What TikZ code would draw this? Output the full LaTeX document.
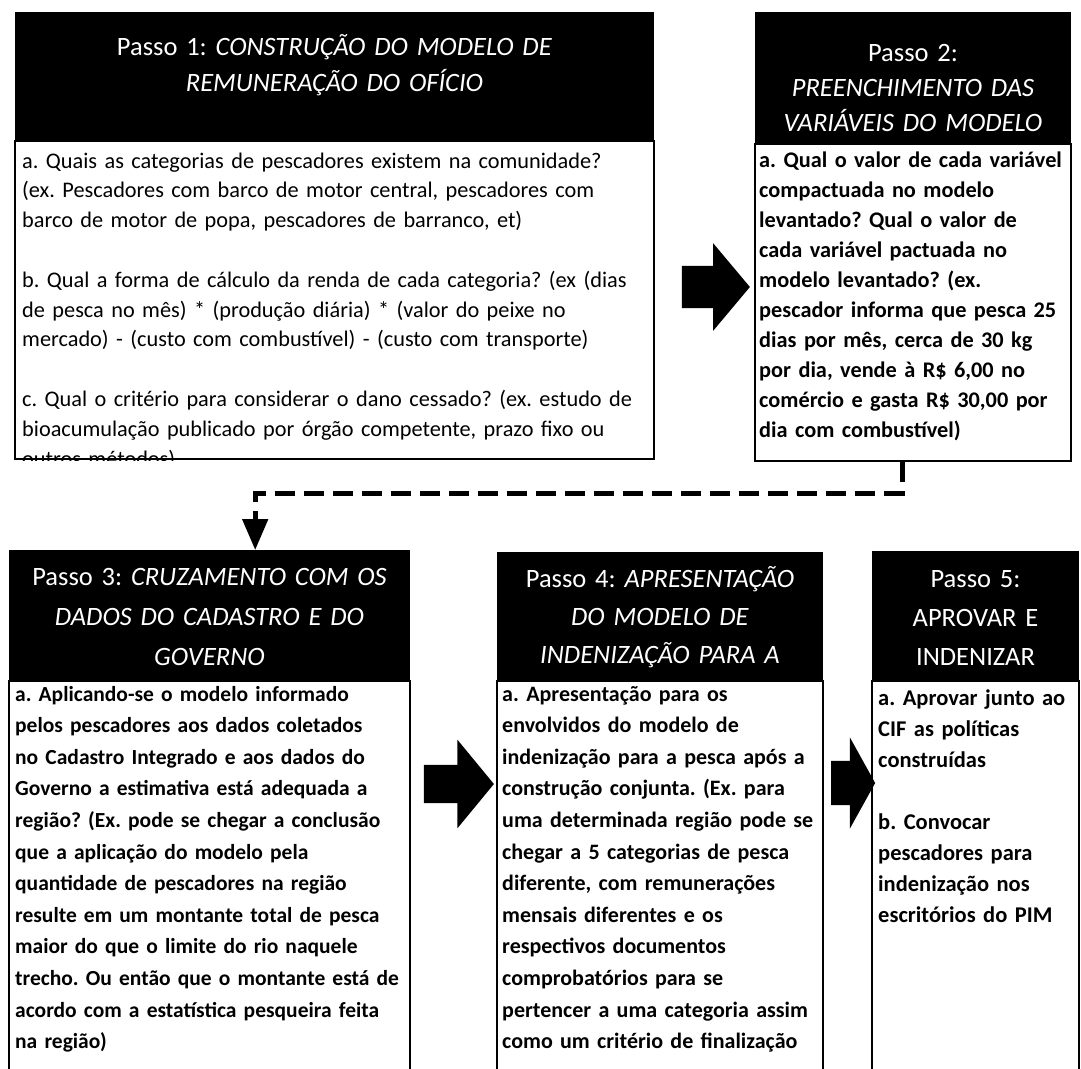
\documentclass[tikz,border=0pt]{standalone}
\usepackage{fontspec}
\setmainfont{Carlito}
\usetikzlibrary{shapes.arrows, arrows.meta, positioning}
\frenchspacing

\begin{document}
\begin{tikzpicture}[
    x=1pt, y=-1pt,
    node distance=0pt,
    headbox/.style={rectangle, fill=black, inner sep=0pt, anchor=north west},
    headtext/.style={anchor=base, inner sep=0pt, align=center, text=white, font=\fontsize{26.5}{36}\selectfont},
    bodybox/.style={rectangle, draw=black, line width=2pt, inner sep=0pt},
    bodytext/.style={anchor=base west, inner sep=0pt, align=left, font=\bfseries\fontsize{21.5}{31.6}\selectfont},
    blockarrow/.style={single arrow, fill=black, inner xsep=0pt},
    dashflow/.style={line width=5pt, dash pattern=on 20pt off 9pt, -{Triangle[length=31pt, width=25pt]}}
]
\useasboundingbox (0,0) rectangle (1081,1068);

\node[headbox, minimum width=639pt, minimum height=128pt] (h1) at (15,12) {};
\node[headtext, text width=620pt] (ht1) at (334.5,55) {Passo 1: \textit{CONSTRUÇÃO DO MODELO DE}\\\textit{REMUNERAÇÃO DO OFÍCIO}};
\node[bodybox, minimum width=639pt, minimum height=318pt, below=of h1] (b1) {};
\begin{scope}
  \clip (b1.north west) rectangle (b1.south east);
  \node[bodytext, font=\fontsize{22.3}{29.8}\selectfont, text width=630pt] (bt1) at (22,168) {a. Quais as categorias de pescadores existem na comunidade?\\(ex. Pescadores com barco de motor central, pescadores com\\barco de motor de popa, pescadores de barranco, et)\\[29.8pt]b. Qual a forma de cálculo da renda de cada categoria? (ex (dias\\de pesca no mês) * (produção diária) * (valor do peixe no\\mercado) - (custo com combustível) - (custo com transporte)\\[29.8pt]c. Qual o critério para considerar o dano cessado? (ex. estudo de\\bioacumulação publicado por órgão competente, prazo fixo ou\\outros métodos)};
\end{scope}

\node[headbox, minimum width=316pt, minimum height=131pt] (h2) at (755,12) {};
\node[headtext, text width=312pt, font=\fontsize{26.5}{35}\selectfont] (ht2) at (913,61) {Passo 2:\\\textit{PREENCHIMENTO DAS}\\\textit{VARIÁVEIS DO MODELO}};
\node[bodybox, minimum width=316pt, minimum height=317pt, below=of h2] (b2) {};
\node[bodytext, font=\bfseries\fontsize{22.3}{30}\selectfont, text width=312pt] (bt2) at (759,167) {a. Qual o valor de cada variável\\compactuada no modelo\\levantado? Qual o valor de\\cada variável pactuada no\\modelo levantado? (ex.\\pescador informa que pesca 25\\dias por mês, cerca de 30 kg\\por dia, vende à R\$ 6,00 no\\comércio e gasta R\$ 30,00 por\\dia com combustível)};

\node[blockarrow, minimum height=68pt, inner ysep=21pt, single arrow head extend=22.5pt, single arrow tip angle=100] (ar1) at (707,287) {};

\node[headbox, minimum width=401pt, minimum height=130pt] (h3) at (9,550) {};
\node[headtext, text width=398pt, font=\fontsize{26.5}{40}\selectfont] (ht3) at (209.5,585) {Passo 3: \textit{CRUZAMENTO COM OS}\\\textit{DADOS DO CADASTRO E DO}\\\textit{GOVERNO}};
\node[bodybox, minimum width=401pt, minimum height=400pt, below=of h3] (b3) {};
\node[bodytext, text width=398pt] (bt3) at (15,701) {a. Aplicando-se o modelo informado\\pelos pescadores aos dados coletados\\no Cadastro Integrado e aos dados do\\Governo a estimativa está adequada a\\região? (Ex. pode se chegar a conclusão\\que a aplicação do modelo pela\\quantidade de pescadores na região\\resulte em um montante total de pesca\\maior do que o limite do rio naquele\\trecho. Ou então que o montante está de\\acordo com a estatística pesqueira feita\\na região)};

\draw[dashflow] ([xshift=-11pt]b2.south) -- ++(0,31) -| ([xshift=45.5pt]h3.north);

\node[blockarrow, minimum height=70pt, inner ysep=19pt, single arrow head extend=25pt, single arrow tip angle=101] (ar2) at (451,784) {};

\node[headbox, minimum width=326pt, minimum height=128pt] (h4) at (497,552) {};
\node[headtext, text width=324pt, font=\fontsize{26.5}{38}\selectfont] (ht4) at (660,587) {Passo 4: \textit{APRESENTAÇÃO}\\\textit{DO MODELO DE}\\\textit{INDENIZAÇÃO PARA A}};
\node[bodybox, minimum width=326pt, minimum height=400pt, below=of h4] (b4) {};
\node[bodytext, font=\bfseries\fontsize{22}{31.6}\selectfont, text width=322pt] (bt4) at (502,701) {a. Apresentação para os\\envolvidos do modelo de\\indenização para a pesca após a\\construção conjunta. (Ex. para\\uma determinada região pode se\\chegar a 5 categorias de pesca\\diferente, com remunerações\\mensais diferentes e os\\respectivos documentos\\comprobatórios para se\\pertencer a uma categoria assim\\como um critério de finalização};

\node[blockarrow, minimum height=44pt, inner ysep=22pt, single arrow head extend=23.5pt, single arrow tip angle=122] (ar3) at (847,783) {};

\node[headbox, minimum width=207pt, minimum height=129pt] (h5) at (872,551) {};
\node[headtext, text width=204pt, font=\fontsize{26.5}{39}\selectfont] (ht5) at (975.5,587) {Passo 5:\\APROVAR E\\INDENIZAR};
\node[bodybox, minimum width=207pt, minimum height=400pt, below=of h5] (b5) {};
\node[bodytext, font=\bfseries\fontsize{22.5}{31}\selectfont, text width=204pt] (bt5) at (878,705) {a. Aprovar junto ao\\CIF as políticas\\construídas\\[31pt]b. Convocar\\pescadores para\\indenização nos\\escritórios do PIM};

\end{tikzpicture}
\end{document}
